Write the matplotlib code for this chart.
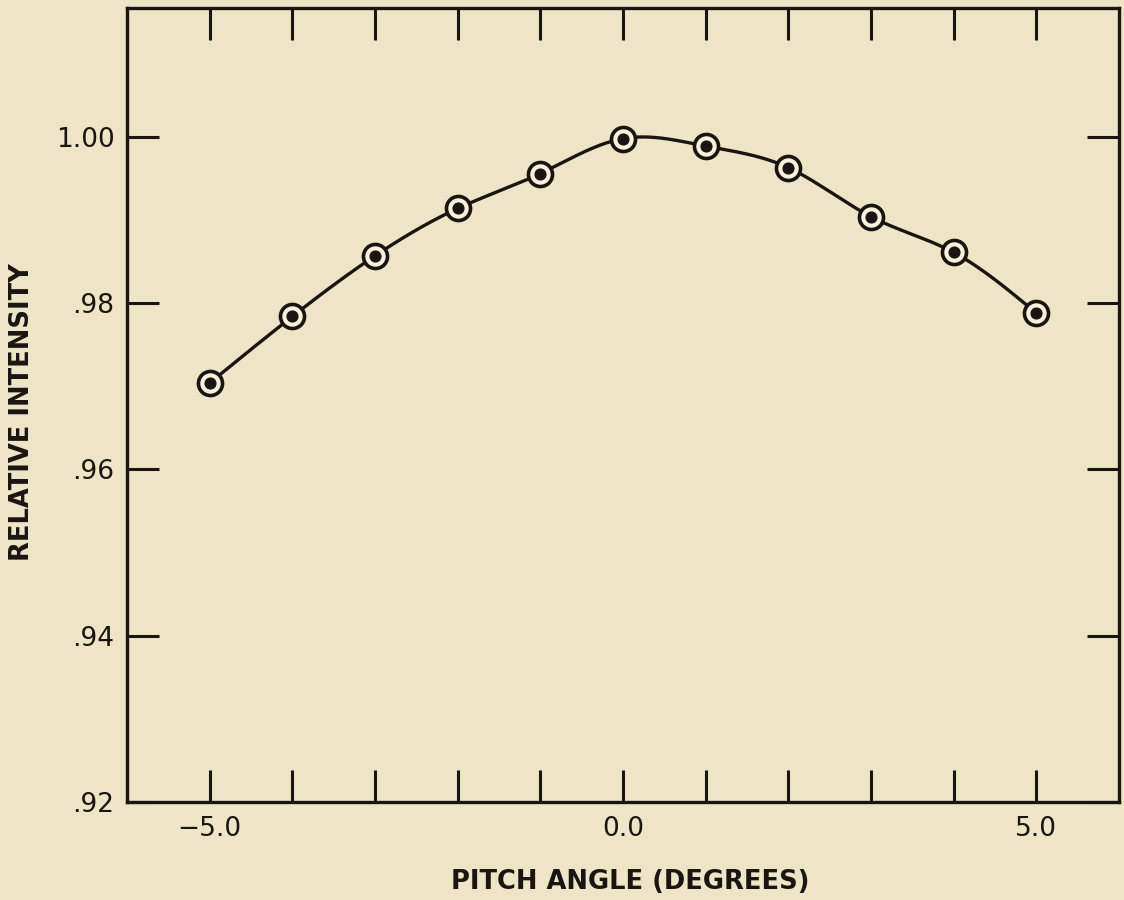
import numpy as np
import matplotlib
matplotlib.use("Agg")
import matplotlib.pyplot as plt

# pitch angle (degrees) and relative intensity
pitch = [-5, -4, -3, -2, -1, 0, 1, 2, 3, 4, 5]
intensity = [0.9704, 0.9784, 0.9857, 0.9914, 0.9956, 0.9998,
             0.9989, 0.9963, 0.9904, 0.9861, 0.9788]

x_ticks = list(range(-5, 6))
x_labels = ["\u22125.0", "", "", "", "", "0.0", "", "", "", "", "5.0"]
y_ticks = [0.92, 0.94, 0.96, 0.98, 1.00]
y_labels = [".92", ".94", ".96", ".98", "1.00"]

bg = "#ede5c6"
ink = "#1a1512"


def natural_spline(x, y, n=400):
  # smooth curve through the measured points
  x = np.asarray(x, float)
  y = np.asarray(y, float)
  h = np.diff(x)
  k = len(x)
  A = np.zeros((k, k))
  b = np.zeros(k)
  A[0, 0] = A[-1, -1] = 1
  for i in range(1, k - 1):
    A[i, i - 1] = h[i - 1]
    A[i, i] = 2 * (h[i - 1] + h[i])
    A[i, i + 1] = h[i]
    b[i] = 6 * ((y[i + 1] - y[i]) / h[i] - (y[i] - y[i - 1]) / h[i - 1])
  M = np.linalg.solve(A, b)
  xs = np.linspace(x[0], x[-1], n)
  ys = np.empty_like(xs)
  for j, t in enumerate(xs):
    i = min(np.searchsorted(x, t, side="right") - 1, k - 2)
    a = x[i + 1] - t
    c = t - x[i]
    ys[j] = (M[i] * a**3 / (6 * h[i]) + M[i + 1] * c**3 / (6 * h[i])
             + (y[i] / h[i] - M[i] * h[i] / 6) * a
             + (y[i + 1] / h[i] - M[i + 1] * h[i] / 6) * c)
  return xs, ys


plt.rcParams['font.family'] = ['DejaVu Sans']

fig = plt.figure(figsize=(11.24, 9), dpi=100, facecolor=bg)
ax = fig.add_axes([0.113, 0.109, 0.8826, 0.882])
ax.set_facecolor(bg)

xs, ys = natural_spline(pitch, intensity)
ax.plot(xs, ys, color=ink, lw=2.4, zorder=2)
ax.scatter(pitch, intensity, s=300, facecolor="#f6f1dc", edgecolor=ink,
           linewidth=2.6, zorder=3)
ax.scatter(pitch, intensity, s=60, color=ink, zorder=4)

ax.set_xlim(-6, 6)
ax.set_ylim(0.92, 1.0155)

ax.set_xticks(x_ticks)
ax.set_xticklabels(x_labels)
ax.set_yticks(y_ticks)
ax.set_yticklabels(y_labels)

ax.tick_params(axis="both", direction="in", length=23, width=2.2, color=ink,
               labelsize=19, labelcolor=ink, top=True, right=True)
ax.tick_params(axis="x", pad=10)
ax.tick_params(axis="y", pad=9)
for s in ax.spines.values():
  s.set_linewidth(2.4)
  s.set_color(ink)

ax.set_xlabel("PITCH ANGLE (DEGREES)", fontsize=18.5, fontweight="bold",
              color=ink)
ax.set_ylabel("RELATIVE INTENSITY", fontsize=18.5, fontweight="bold",
              color=ink)
ax.xaxis.set_label_coords(0.507, -0.0844)
ax.yaxis.set_label_coords(-0.093, 0.491)

fig.savefig("out.png", dpi=100, facecolor=bg)
